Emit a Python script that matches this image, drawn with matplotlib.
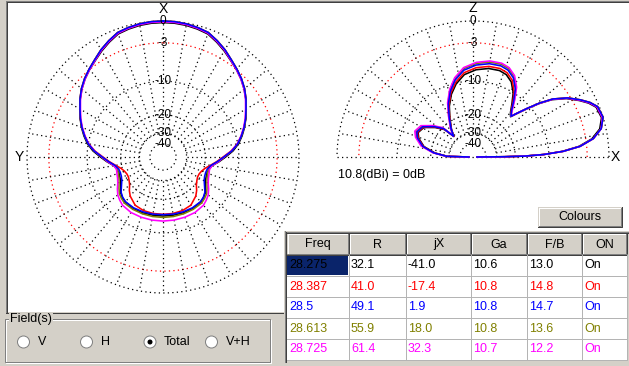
import numpy as np
import matplotlib
matplotlib.use("Agg")
import matplotlib.pyplot as plt
from matplotlib.patches import Rectangle, Circle

# ---------------- data ----------------
freqs = ["28.275", "28.387", "28.5", "28.613", "28.725"]
r_vals = ["32.1", "41.0", "49.1", "55.9", "61.4"]
jx_vals = ["-41.0", "-17.4", "1.9", "18.0", "32.3"]
ga_vals = ["10.6", "10.8", "10.8", "10.8", "10.7"]
fb_vals = ["13.0", "14.8", "14.7", "13.6", "12.2"]
on_vals = ["On", "On", "On", "On", "On"]
headers = ["Freq", "R", "jX", "Ga", "F/B", "ON"]
series_colors = ["#000000", "#ff0000", "#0000ff", "#808000", "#ff00ff"]
draw_order = [0, 1, 3, 4, 2]

ring_db = [0, -3, -10, -20, -30, -40]
ring_labels = ["0", "-3", "-10", "-20", "-30", "-40"]
gain_ref = "10.8(dBi) = 0dB"
field_opts = ["V", "H", "Total", "V+H"]

# azimuth pattern (dB rel. 10.8 dBi), 0 deg = X (forward), symmetric
az_deg = [0, 5, 10, 15, 20, 25, 30, 35, 40, 45, 50, 55, 60, 65, 70, 75, 80, 85, 90, 95,
          100, 105, 110, 115, 120, 125, 130, 135, 140, 150, 160, 170, 180]
az_black = [-0.2, -0.22, -0.3, -0.45, -0.65, -1.2, -1.8, -2.45, -3.0, -3.6, -4.3, -5.1, -6.0, -6.8, -7.7, -8.7,
            -9.8, -11.3, -13.3, -15.2, -17.2, -18.0, -18.2, -18.0, -17.6, -16.6, -15.4, -14.8, -14.4, -14.2,
            -14.2, -14.3, -14.3]
az_red = [0.0, -0.02, -0.1, -0.25, -0.45, -1.0, -1.6, -2.3, -2.9, -3.5, -4.2, -5.05, -6.0, -6.85, -7.8, -8.9,
          -10.1, -11.8, -14.0, -15.9, -17.8, -19.5, -20.5, -21.0, -21.0, -20.4, -19.5, -18.0, -16.8, -15.3,
          -14.9, -14.8, -14.8]
az_blue = [0.0, -0.02, -0.1, -0.25, -0.45, -1.0, -1.6, -2.3, -2.9, -3.5, -4.2, -5.05, -6.0, -6.85, -7.8, -8.85,
           -10.0, -11.6, -13.8, -15.7, -17.6, -18.6, -18.8, -18.6, -18.0, -16.9, -15.6, -14.9, -14.5, -14.4,
           -14.5, -14.6, -14.7]
az_olive = [0.0, -0.02, -0.1, -0.25, -0.45, -1.0, -1.6, -2.3, -2.9, -3.5, -4.2, -5.05, -6.0, -6.85, -7.8, -8.85,
            -10.0, -11.6, -13.7, -15.5, -17.4, -18.2, -18.0, -17.6, -16.9, -15.9, -14.9, -14.4, -14.0, -13.9,
            -13.9, -13.9, -13.9]
az_magenta = [-0.1, -0.12, -0.2, -0.35, -0.55, -1.1, -1.7, -2.4, -3.0, -3.6, -4.3, -5.15, -6.1, -6.95, -7.9, -8.95,
              -10.1, -11.7, -13.7, -15.4, -17.2, -17.8, -17.5, -17.1, -16.4, -15.3, -14.3, -13.7, -13.2, -12.9,
              -12.9, -12.9, -12.9]

# elevation pattern (dB rel. 10.8 dBi), 0 deg = horizon toward X, 90 = zenith
el_deg = [0, 0.5, 1, 2, 3.6, 5.7, 8.7, 12.5, 17, 22, 25, 28, 32, 36, 39, 42, 45, 47,
          50, 54, 58, 63, 68, 73, 80, 88, 96, 103, 109, 115, 121, 128, 133,
          136, 142, 149, 156, 161, 168, 174, 178.5, 180]
el_black = [-60, -25.2, -16.7, -11.4, -7.2, -4.2, -2.1, -0.8, -0.2, -0.4, -1.1, -2.1, -3.6, -5.7, -8.1, -11.0, -13.8, -15.5,
            -14.5, -12.3, -10.0, -8.2, -7.3, -7.0, -7.1, -7.6, -8.5, -10.2, -12.3, -15.2, -19.0, -23.3, -27.0,
            -21.2, -17.9, -14.8, -14.0, -14.8, -17.1, -21.7, -28.5, -60]
el_red = [-60, -25.0, -16.5, -11.2, -7.0, -4.0, -1.9, -0.6, 0.0, -0.2, -0.9, -1.9, -3.4, -5.5, -7.9, -10.8, -13.6, -15.3,
          -14.3, -11.9, -9.6, -7.8, -6.9, -6.6, -6.7, -7.2, -8.1, -9.8, -11.9, -14.9, -18.8, -23.2, -27.0,
          -21.0, -17.6, -14.6, -13.8, -14.6, -16.9, -21.5, -28.4, -60]
el_blue = [-60, -25.0, -16.5, -11.2, -7.0, -4.0, -1.9, -0.6, 0.0, -0.2, -0.9, -1.9, -3.4, -5.5, -7.9, -10.8, -13.6, -15.3,
           -14.1, -11.6, -9.1, -7.3, -6.4, -6.1, -6.2, -6.7, -7.6, -9.3, -11.5, -14.5, -18.5, -23.0, -26.8,
           -20.6, -17.4, -14.4, -13.6, -14.4, -16.7, -21.3, -28.2, -60]
el_olive = [-60, -25.0, -16.5, -11.2, -7.0, -4.0, -1.9, -0.6, 0.0, -0.2, -0.9, -1.9, -3.4, -5.5, -7.9, -10.8, -13.6, -15.3,
            -13.9, -11.3, -8.8, -7.0, -6.1, -5.8, -5.9, -6.4, -7.3, -9.0, -11.2, -14.2, -18.2, -22.7, -26.6,
            -20.3, -17.1, -14.1, -13.3, -14.1, -16.4, -21.1, -28.0, -60]
el_magenta = [-60, -25.0, -16.5, -11.2, -7.0, -4.0, -1.9, -0.6, -0.1, -0.3, -1.0, -2.0, -3.5, -5.6, -8.0, -10.9, -13.6, -15.3,
              -13.7, -11.1, -8.6, -6.8, -5.9, -5.6, -5.7, -6.2, -7.1, -8.8, -11.0, -14.0, -18.0, -22.5, -26.5,
              -20.0, -16.8, -13.8, -13.0, -13.8, -16.1, -20.8, -27.8, -60]

az_series = [az_black, az_red, az_blue, az_olive, az_magenta]
el_series = [el_black, el_red, el_blue, el_olive, el_magenta]

# ---------------- figure ----------------
W, H = 629, 366
GRAY = "#d4d0c8"
fig = plt.figure(figsize=(W / 100, H / 100), dpi=100)
fig.patch.set_facecolor(GRAY)
UI_FONT = "Liberation Sans"

# background layer (white plot panel)
bg = fig.add_axes([0, 0, 1, 1], zorder=0)
bg.set_xlim(0, W); bg.set_ylim(H, 0); bg.axis("off")
bg.add_patch(Rectangle((6, 1), W - 6, 311, fc="white", ec="none"))
px = 0.72  # one pixel in points
bg.plot([5.5, 5.5], [0.5, 312.5], color="#808080", lw=px)
bg.plot([6.5, 6.5], [1.5, 312.5], color="#404040", lw=px)
bg.plot([5.5, W], [0.5, 0.5], color="#808080", lw=px)
bg.plot([6.5, W], [1.5, 1.5], color="#404040", lw=px)
bg.plot([5.5, 286], [312.5, 312.5], color="#404040", lw=px)


def fwd(d):
    return np.power(0.89, -np.asarray(d, dtype=float) / 2.0)


def inv(r):
    with np.errstate(divide="ignore", invalid="ignore"):
        return -2.0 * np.log(np.asarray(r, dtype=float)) / np.log(0.89)


RPX = 136


def make_polar(cx, cy, zero_loc):
    rect = [(cx - RPX) / W, (H - cy - RPX) / H, 2 * RPX / W, 2 * RPX / H]
    ax = fig.add_axes(rect, projection="polar", zorder=1)
    ax.set_theta_zero_location(zero_loc)
    ax.set_rscale("function", functions=(fwd, inv))
    ax.set_rlim(-120, 0)
    ax.grid(False)
    ax.set_xticks([]); ax.set_yticks([])
    ax.spines["polar"].set_visible(False)
    ax.patch.set_visible(False)
    return ax


DOT = dict(lw=0.9, linestyle=(0, (1, 2.6)), clip_on=False)
CURVE_LW = 1.15
LAB_FS = 8.5

# ---- left: azimuth plot ----
axl = make_polar(163, 157, "N")
th_full = np.linspace(0, 2 * np.pi, 721)
for db in ring_db:
    axl.plot(th_full, np.full_like(th_full, db), color="red" if db == -3 else "black", **DOT)
for a in range(0, 360, 10):
    axl.plot([np.deg2rad(a)] * 2, [-30, 0], color="black", **DOT)
az_arr = np.array(az_deg, dtype=float)
az_theta = np.deg2rad(np.concatenate([az_arr, 360 - az_arr[-2::-1]]))
for k in draw_order:
    v = np.array(az_series[k], dtype=float)
    axl.plot(az_theta, np.concatenate([v, v[-2::-1]]), color=series_colors[k], lw=CURVE_LW, clip_on=False)
for db, lab in zip(ring_db, ring_labels):
    axl.text(0, db, lab, ha="center", va="center", fontsize=LAB_FS, family=UI_FONT)

# ---- right: elevation plot ----
axr = make_polar(473, 157, "E")
th_half = np.linspace(0, np.pi, 361)
for db in ring_db:
    axr.plot(th_half, np.full_like(th_half, db), color="red" if db == -3 else "black", **DOT)
for a in range(10, 180, 10):
    axr.plot([np.deg2rad(a)] * 2, [-30, 0], color="black", **DOT)
axr.plot([np.pi, np.pi, 0, 0], [0, -120, -120, 0], color="black", **DOT)
el_theta = np.deg2rad(el_deg)
for k in draw_order:
    axr.plot(el_theta, el_series[k], color=series_colors[k], lw=CURVE_LW, clip_on=False)
for db, lab in zip(ring_db, ring_labels):
    axr.text(np.pi / 2, db, lab, ha="center", va="center", fontsize=LAB_FS, family=UI_FONT)

# ---------------- UI overlay ----------------
ui = fig.add_axes([0, 0, 1, 1], zorder=3)
ui.set_xlim(0, W); ui.set_ylim(H, 0); ui.axis("off")
ui.patch.set_visible(False)

# axis letters
ui.text(163, 9, "X", ha="center", va="center", fontsize=10, family=UI_FONT)
ui.text(19, 157, "Y", ha="center", va="center", fontsize=10, family=UI_FONT)
ui.text(473, 8, "Z", ha="center", va="center", fontsize=10, family=UI_FONT)
ui.text(615, 157, "X", ha="center", va="center", fontsize=10, family=UI_FONT)
ui.text(338, 175, gain_ref, ha="left", va="center", fontsize=9, family=UI_FONT)

# Colours button
bx0, by0, bx1, by1 = 538, 207, 622, 227
ui.add_patch(Rectangle((bx0, by0), bx1 - bx0, by1 - by0, fc=GRAY, ec="none"))
ui.plot([bx0 + 0.5, bx1 - 0.5], [by0 + 0.5, by0 + 0.5], color="white", lw=px)
ui.plot([bx0 + 0.5, bx0 + 0.5], [by0 + 0.5, by1 - 0.5], color="white", lw=px)
ui.plot([bx0, bx1 - 0.5, bx1 - 0.5], [by1 - 0.5, by1 - 0.5, by0], color="#404040", lw=px)
ui.plot([bx0 + 1, bx1 - 1.5, bx1 - 1.5], [by1 - 1.5, by1 - 1.5, by0 + 1], color="#808080", lw=px)
ui.text((bx0 + bx1) / 2, (by0 + by1) / 2, "Colours", ha="center", va="center", fontsize=9, family=UI_FONT)

# table
col_x = [287, 349, 406, 471, 527, 582, 627]
hdr_y0, hdr_y1 = 233, 255
row_h = 21
ui.add_patch(Rectangle((284, 231), W - 284, 131, fc=GRAY, ec="none"))
ui.plot([284.5, 284.5], [231, 362], color="#808080", lw=px)
ui.plot([284.5, W], [231.5, 231.5], color="#808080", lw=px)
ui.plot([285.5, 285.5], [232, 362], color="#404040", lw=px)
ui.plot([285.5, W], [232.5, 232.5], color="#404040", lw=px)
n_rows = len(freqs)
ui.add_patch(Rectangle((col_x[0], hdr_y1), col_x[-1] - col_x[0], row_h * n_rows, fc="white", ec="none"))
for i, hname in enumerate(headers):
    x0, x1 = col_x[i], col_x[i + 1]
    ui.add_patch(Rectangle((x0, hdr_y0), x1 - x0, hdr_y1 - hdr_y0, fc=GRAY, ec="none"))
    ui.plot([x0 + 0.5, x1 - 1], [hdr_y0 + 0.5, hdr_y0 + 0.5], color="white", lw=px)
    ui.plot([x0 + 0.5, x0 + 0.5], [hdr_y0 + 0.5, hdr_y1 - 1], color="white", lw=px)
    ui.plot([x1 - 0.5, x1 - 0.5], [hdr_y0, hdr_y1], color="#404040", lw=px)
    ui.plot([x1 - 1.5, x1 - 1.5], [hdr_y0 + 1, hdr_y1 - 1], color="#808080", lw=px)
    ui.text((x0 + x1) / 2, (hdr_y0 + hdr_y1) / 2 + 0.5, hname, ha="center", va="center", fontsize=9, family=UI_FONT)
ui.plot([col_x[0], col_x[-1]], [hdr_y1 - 0.5, hdr_y1 - 0.5], color="#404040", lw=px)
ui.plot([col_x[0], col_x[-1]], [hdr_y1 - 1.5, hdr_y1 - 1.5], color="#808080", lw=px)
# selected cell
ui.add_patch(Rectangle((col_x[0], hdr_y1), col_x[1] - col_x[0] - 1, row_h - 1, fc="#0a246a", ec="none"))
cols_data = [freqs, r_vals, jx_vals, ga_vals, fb_vals, on_vals]
for r in range(n_rows):
    yb = hdr_y1 + row_h * (r + 1) - 0.5
    ui.plot([col_x[0], col_x[-1]], [yb, yb], color="#b4b4b4", lw=px)
    for c in range(len(headers)):
        ui.text(col_x[c] + 2, hdr_y1 + row_h * r + row_h / 2, cols_data[c][r], ha="left", va="center",
                fontsize=9, family=UI_FONT, color=series_colors[r])
for c in range(1, len(col_x)):
    ui.plot([col_x[c] - 0.5] * 2, [hdr_y1, hdr_y1 + row_h * n_rows], color="#b4b4b4", lw=px)

# Field(s) group box
gx0, gy0, gx1, gy1 = 5, 319, 270, 362
ui.add_patch(Rectangle((gx0 + 0.5, gy0 + 0.5), gx1 - gx0, gy1 - gy0, fill=False, ec="white", lw=px))
ui.add_patch(Rectangle((gx0 - 0.5, gy0 - 0.5), gx1 - gx0, gy1 - gy0, fill=False, ec="#808080", lw=px))
ui.text(10, gy0, "Field(s)", ha="left", va="center", fontsize=9, family=UI_FONT,
        bbox=dict(fc=GRAY, ec="none", pad=0.5))
rb_x = [23.5, 86.5, 150, 211.5]
rb_y = 342
for i, (xc, lab) in enumerate(zip(rb_x, field_opts)):
    ui.add_patch(Circle((xc, rb_y), 6, fc="white", ec="#808080", lw=px))
    if lab == "Total":
        ui.add_patch(Circle((xc, rb_y), 2.5, fc="black", ec="none"))
    ui.text(xc + 14, rb_y, lab, ha="left", va="center", fontsize=9, family=UI_FONT)

fig.savefig("out.png", dpi=100, facecolor=fig.get_facecolor())
